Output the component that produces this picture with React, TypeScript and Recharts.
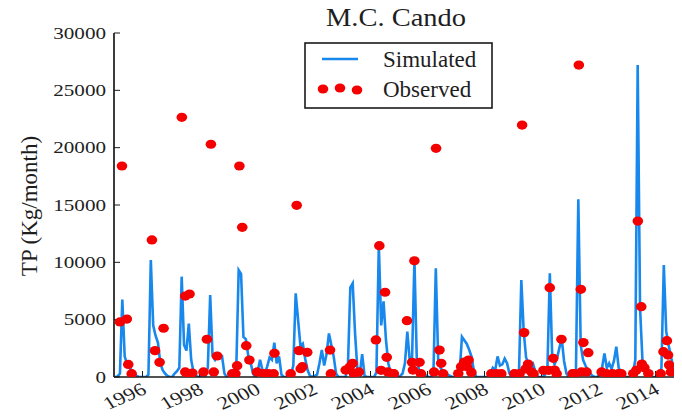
import React from 'react';
import { ComposedChart, Line, Scatter, XAxis, YAxis } from 'recharts';

const title = 'M.C. Cando';
const yAxisLabel = 'TP (Kg/month)';
const seriesNames = ['Simulated', 'Observed'];

const xTicks = [1996, 1998, 2000, 2002, 2004, 2006, 2008, 2010, 2012, 2014];
const yTicks = [0, 5000, 10000, 15000, 20000, 25000, 30000];

const years = [1995, 1996, 1997, 1998, 1999, 2000, 2001, 2002, 2003, 2004, 2005, 2006, 2007, 2008, 2009, 2010, 2011, 2012, 2013, 2014];

// monthly simulated TP, Jan..Dec for each year
const simulated: number[][] = [
  [0, 50, 300, 6750, 1800, 1100, 800, 600, 300, 100, 0, 0],
  [0, 0, 200, 10200, 4500, 3600, 3000, 1200, 600, 300, 100, 0],
  [0, 300, 500, 800, 8750, 2800, 2300, 4650, 1500, 400, 100, 0],
  [0, 0, 100, 800, 7150, 1800, 1500, 2000, 1700, 1800, 300, 0],
  [0, 0, 300, 900, 9330, 9000, 3500, 3300, 1900, 1300, 300, 0],
  [500, 1500, 600, 400, 900, 1700, 1500, 3000, 1200, 1800, 200, 0],
  [0, 0, 200, 1000, 7300, 5000, 2700, 2900, 1600, 600, 100, 0],
  [100, 200, 1200, 2350, 1000, 2000, 3800, 2800, 1800, 300, 0, 0],
  [0, 0, 1000, 7800, 8170, 3800, 600, 300, 2000, 100, 0, 0],
  [0, 0, 400, 11500, 4500, 6600, 3250, 1200, 350, 0, 0, 0],
  [100, 300, 1200, 3950, 1500, 1600, 10200, 1400, 600, 500, 300, 100],
  [0, 0, 300, 9480, 1500, 800, 500, 300, 200, 100, 0, 0],
  [0, 300, 3500, 3200, 2900, 2400, 1800, 600, 0, 0, 0, 0],
  [0, 0, 300, 800, 600, 1800, 1000, 1100, 1600, 1200, 300, 0],
  [0, 0, 200, 8460, 4000, 1700, 1200, 700, 1100, 400, 0, 0],
  [0, 200, 800, 9040, 1800, 1100, 1600, 2500, 3370, 1400, 300, 0],
  [0, 0, 500, 15500, 2800, 1500, 1000, 600, 300, 100, 0, 0],
  [300, 800, 2060, 800, 1200, 700, 1400, 2640, 800, 400, 200, 0],
  [0, 0, 300, 1500, 27200, 6000, 1500, 800, 400, 200, 0, 0],
  [0, 100, 800, 9770, 4000, 2800, 1800, 800, 200, 0, 0, 0],
];

// observed TP (decimal year, value)
const obsTime = [
  1995.21, 1995.28, 1995.45, 1995.50, 1995.62,
  1996.33, 1996.44, 1996.60, 1996.74,
  1997.38, 1997.50, 1997.65, 1997.50, 1997.57, 1997.75,
  1998.14, 1998.26, 1998.40, 1998.50, 1998.62,
  1999.15, 1999.26, 1999.32, 1999.40, 1999.50, 1999.64, 1999.75,
  2000.02, 2000.25, 2000.42, 2000.60, 2000.63,
  2001.20, 2001.41, 2001.49, 2001.55, 2001.61, 2001.78,
  2002.58, 2002.61,
  2003.13, 2003.27, 2003.37, 2003.42, 2003.59,
  2004.19, 2004.31, 2004.37, 2004.51, 2004.57, 2004.61, 2004.79, 2004.82,
  2005.28, 2005.46, 2005.49, 2005.54, 2005.72, 2005.77,
  2006.23, 2006.30, 2006.42, 2006.48, 2006.55,
  2007.08, 2007.18, 2007.29, 2007.39, 2007.44, 2007.54,
  2008.24, 2008.42, 2008.59,
  2009.05, 2009.23, 2009.32, 2009.39, 2009.44, 2009.53, 2009.65, 2009.72,
  2010.07, 2010.25, 2010.29, 2010.41, 2010.46, 2010.53, 2010.70,
  2011.09, 2011.16, 2011.31, 2011.38, 2011.40, 2011.47, 2011.58, 2011.64,
  2012.11, 2012.28, 2012.49, 2012.70, 2012.80,
  2013.22, 2013.33, 2013.38, 2013.50, 2013.52, 2013.61, 2013.75,
  2014.18, 2014.28, 2014.40, 2014.44, 2014.48, 2014.54,
];
const obsValue = [
  4800, 18400, 5050, 1100, 290,
  11950, 2300, 1280, 4250,
  22650, 7060, 7240, 440, 300, 350,
  440, 3290, 20300, 440, 1830,
  290, 290, 985, 18400, 13050, 2730, 1480,
  440, 290, 290, 290, 2070,
  290, 14970, 2300, 730, 900, 2150,
  2350, 290,
  600, 870, 1190, 290, 440,
  3230, 11450, 580, 7390, 1720, 440, 290, 290,
  4910, 1280, 600, 10140, 1280, 290,
  440, 19940, 2350, 1190, 290,
  300, 900, 1300, 900, 1480, 400,
  290, 290, 290,
  290, 290, 21970, 3870, 700, 1130, 440, 290,
  580, 580, 7790, 1630, 600, 290, 3290,
  290, 290, 27200, 7650, 440, 3000, 440, 2120,
  440, 290, 290, 290, 290,
  300, 600, 13600, 6130, 1130, 800, 300,
  290, 2210, 3170, 1910, 1050, 440,
];

const simData = years.flatMap((yr, i) =>
  simulated[i].map((v, m) => ({ t: yr + (m + 0.5) / 12, sim: v }))
);
const obsData = obsTime.map((t, i) => ({ t, obs: obsValue[i] }));

const FONT = '"Liberation Serif", "Times New Roman", Times, serif';
const BLUE = '#1888ec';
const RED = '#f40000';
const AXIS = '#1a1a1a';
const TEXT = '#1e1e1e';

const XTick = (props: any) => {
  const { x, y, payload } = props;
  return (
    <g transform={`translate(${x - 2},${y}) scale(1.25,1) rotate(-28)`}>
      <text textAnchor="end" dy="0.7em" fontSize={18} fontFamily={FONT} fill={TEXT}>
        {payload.value}
      </text>
    </g>
  );
};

const YTick = (props: any) => {
  const { x, y, payload } = props;
  return (
    <g transform={`translate(${x},${y}) scale(1.28,1)`}>
      <text textAnchor="end" dy="0.35em" fontSize={16.5} fontFamily={FONT} fill={TEXT}>
        {payload.value}
      </text>
    </g>
  );
};

const EmptyTick = () => <g />;

const Dot = (props: any) => {
  const { cx, cy } = props;
  if (cx == null || cy == null) return <g />;
  return <ellipse cx={cx} cy={cy} rx={5.3} ry={4.6} fill={RED} />;
};

export default function App() {
  return (
    <div
      style={{
        position: 'relative',
        width: 682,
        height: 418,
        marginTop: -8,
        marginLeft: -8,
        marginBottom: -8,
        overflow: 'hidden',
      }}
    >
      <ComposedChart width={688} height={418} margin={{ top: 33, right: 4, bottom: 0, left: 0 }} data={simData}>
        <XAxis
          dataKey="t"
          type="number"
          domain={[1995, 2015]}
          ticks={xTicks}
          interval={0}
          allowDataOverflow
          height={41}
          tickSize={-6}
          tickMargin={11}
          tick={<XTick />}
          axisLine={{ stroke: AXIS, strokeWidth: 1.7 }}
          tickLine={{ stroke: AXIS }}
        />
        <XAxis
          xAxisId="top"
          orientation="top"
          dataKey="t"
          type="number"
          domain={[1995, 2015]}
          ticks={xTicks}
          interval={0}
          allowDataOverflow
          height={0}
          tickSize={-6}
          tick={EmptyTick}
          axisLine={{ stroke: AXIS, strokeWidth: 1.7 }}
          tickLine={{ stroke: AXIS }}
        />
        <YAxis
          type="number"
          domain={[0, 30000]}
          ticks={yTicks}
          interval={0}
          allowDataOverflow
          width={114}
          tickSize={-6}
          tickMargin={14}
          tick={<YTick />}
          axisLine={{ stroke: AXIS, strokeWidth: 1.7 }}
          tickLine={{ stroke: AXIS }}
        />
        <YAxis
          yAxisId="right"
          orientation="right"
          type="number"
          domain={[0, 30000]}
          ticks={yTicks}
          interval={0}
          allowDataOverflow
          width={0}
          tickSize={-6}
          tick={EmptyTick}
          axisLine={{ stroke: AXIS, strokeWidth: 1.7 }}
          tickLine={{ stroke: AXIS }}
        />
        <Line
          type="linear"
          dataKey="sim"
          name={seriesNames[0]}
          stroke={BLUE}
          strokeWidth={2.6}
          dot={false}
          isAnimationActive={false}
        />
        <Scatter
          data={obsData}
          dataKey="obs"
          name={seriesNames[1]}
          fill={RED}
          shape={Dot}
          isAnimationActive={false}
        />
      </ComposedChart>
      <svg
        width={682}
        height={418}
        style={{ position: 'absolute', left: 0, top: 0, pointerEvents: 'none' }}
      >
        <g transform="translate(396,26) scale(1.14,1)">
          <text textAnchor="middle" fontSize={25} fontFamily={FONT} fill={TEXT}>
            {title}
          </text>
        </g>
        <g transform="translate(29,206) rotate(-90)">
          <text textAnchor="middle" dy="0.35em" fontSize={23} fontFamily={FONT} fill={TEXT}>
            {yAxisLabel}
          </text>
        </g>
        <rect x={305} y={43} width={187} height={65} fill="#fff" stroke={AXIS} strokeWidth={1.6} />
        <line x1={322} y1={59} x2={358} y2={59} stroke={BLUE} strokeWidth={2.6} />
        <ellipse cx={323} cy={89} rx={5.3} ry={4.6} fill={RED} />
        <ellipse cx={340} cy={88} rx={5.3} ry={4.6} fill={RED} />
        <ellipse cx={357} cy={90} rx={5.3} ry={4.6} fill={RED} />
        <text x={383} y={67} fontSize={23} fontFamily={FONT} fill={TEXT}>{seriesNames[0]}</text>
        <text x={383} y={97} fontSize={23} fontFamily={FONT} fill={TEXT}>{seriesNames[1]}</text>
      </svg>
    </div>
  );
}
